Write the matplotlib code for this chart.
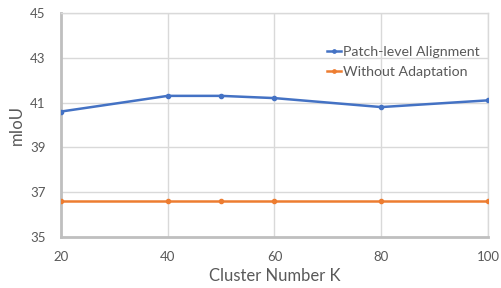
import matplotlib.pyplot as plt
import numpy as np

# cluster number K and mIoU values
cluster_k = [20, 40, 50, 60, 80, 100]
patch_level = [40.6, 41.3, 41.3, 41.2, 40.8, 41.1]
without_adapt = [36.6, 36.6, 36.6, 36.6, 36.6, 36.6]

x_ticks = [20, 40, 60, 80, 100]
y_ticks = [35, 37, 39, 41, 43, 45]

plt.rcParams['font.family'] = ['Lato', 'DejaVu Sans']
text_color = '#595959'

fig = plt.figure(figsize=(5.02, 2.88), dpi=100)
ax = fig.add_axes([0.1215, 0.177, 0.8505, 0.778])

ax.plot(cluster_k, patch_level, color='#4472C4', lw=1.8, marker='o', ms=3,
        label='Patch-level Alignment', zorder=3)
ax.plot(cluster_k, without_adapt, color='#ED7D31', lw=1.8, marker='o', ms=3,
        label='Without Adaptation', zorder=3)

ax.set_xlim(20, 100)
ax.set_ylim(35, 45)
ax.set_xticks(x_ticks)
ax.set_yticks(y_ticks)
ax.grid(True, color='#D9D9D9', lw=1.0)
ax.set_axisbelow(True)

for side in ['top', 'right']:
    ax.spines[side].set_color('#D9D9D9')
    ax.spines[side].set_linewidth(1.0)
for side in ['left', 'bottom']:
    ax.spines[side].set_color('#BFBFBF')
    ax.spines[side].set_linewidth(2.0)

ax.tick_params(axis='x', length=0, colors=text_color, labelsize=9.5, pad=10)
ax.tick_params(axis='y', length=0, colors=text_color, labelsize=9.5, pad=11)
ax.set_xlabel('Cluster Number K', fontsize=12, color=text_color, labelpad=4)
ax.set_ylabel('mIoU', fontsize=12, color=text_color, labelpad=4)

leg = ax.legend(loc='upper right', bbox_to_anchor=(1.01, 0.91), frameon=False,
                fontsize=10.2, handlelength=1.0, handletextpad=0.1, labelspacing=0.6,
                markerscale=0.8)
for t in leg.get_texts():
    t.set_color(text_color)

fig.savefig('out.png', dpi=100)
